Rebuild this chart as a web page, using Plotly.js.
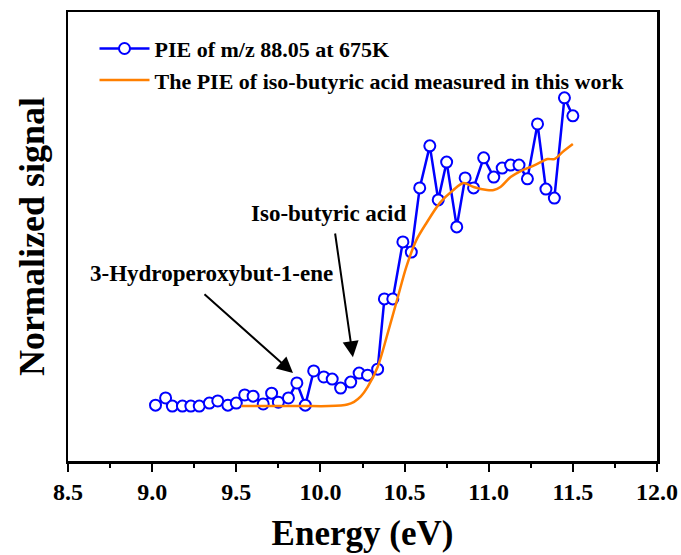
<!DOCTYPE html>
<html>
<head>
<meta charset="utf-8">
<script src="https://cdn.plot.ly/plotly-3.0.1.min.js"></script>
<style>html,body{margin:0;padding:0;background:#fff;}#chart{width:681px;height:555px;}</style>
</head>
<body>
<div id="chart"></div>
<script>
// PIE of m/z 88.05 at 675K
var pieEnergy = [9.02, 9.08, 9.12, 9.18, 9.23, 9.28, 9.34, 9.39, 9.45, 9.50,
                 9.55, 9.60, 9.66, 9.71, 9.75, 9.81, 9.86, 9.91, 9.96, 10.02,
                 10.07, 10.12, 10.18, 10.23, 10.28, 10.34, 10.38, 10.43, 10.49, 10.54,
                 10.59, 10.65, 10.70, 10.75, 10.81, 10.86, 10.91, 10.97, 11.03, 11.08,
                 11.13, 11.18, 11.23, 11.29, 11.34, 11.39, 11.45, 11.50];
var pieSignal = [0.003, 0.027, 0.000, 0.000, 0.000, 0.000, 0.010, 0.017, 0.003, 0.010,
                 0.037, 0.033, 0.007, 0.043, 0.013, 0.027, 0.077, 0.003, 0.117, 0.097,
                 0.090, 0.060, 0.080, 0.110, 0.103, 0.123, 0.357, 0.357, 0.547, 0.513,
                 0.727, 0.867, 0.687, 0.813, 0.597, 0.760, 0.727, 0.827, 0.763, 0.793,
                 0.803, 0.803, 0.757, 0.940, 0.723, 0.693, 1.027, 0.967];

// Reference PIE of iso-butyric acid
var refEnergy = [9.53, 9.70, 9.90, 10.05, 10.12, 10.16, 10.20, 10.24, 10.28, 10.34,
                 10.40, 10.46, 10.51, 10.57, 10.63, 10.71, 10.79, 10.85, 10.91, 10.99,
                 11.03, 11.07, 11.13, 11.19, 11.25, 11.30, 11.35, 11.39, 11.44, 11.50];
var refSignal = [0.000, 0.000, 0.000, 0.000, 0.002, 0.005, 0.014, 0.032, 0.063, 0.130,
                 0.243, 0.363, 0.463, 0.553, 0.610, 0.677, 0.720, 0.743, 0.730, 0.720,
                 0.720, 0.730, 0.763, 0.783, 0.797, 0.810, 0.823, 0.823, 0.847, 0.873];

var xTickVals = [8.5, 9.0, 9.5, 10.0, 10.5, 11.0, 11.5, 12.0];
var xTickText = ['8.5', '9.0', '9.5', '10.0', '10.5', '11.0', '11.5', '12.0'];

var FONT = 'Liberation Serif, Times New Roman, serif';

var traces = [
  {
    x: pieEnergy, y: pieSignal, type: 'scatter', mode: 'lines+markers',
    name: 'PIE of m/z 88.05 at 675K',
    line: {color: '#0000FF', width: 2.5},
    marker: {symbol: 'circle', size: 11, color: '#FFFFFF', line: {color: '#0000FF', width: 2}}
  },
  {
    x: refEnergy, y: refSignal, type: 'scatter', mode: 'lines',
    name: 'The PIE of iso-butyric acid measured in this work',
    line: {color: '#FF7F00', width: 2.5, shape: 'spline', smoothing: 0.8}
  }
];

var layout = {
  width: 681, height: 555,
  margin: {l: 68, r: 24, t: 12, b: 94},
  paper_bgcolor: '#fff', plot_bgcolor: '#fff',
  font: {family: FONT, color: '#000', weight: 'bold'},
  showlegend: true,
  legend: {
    x: 0.045, y: 0.965, xanchor: 'left', yanchor: 'top',
    bgcolor: 'rgba(0,0,0,0)', borderwidth: 0,
    font: {family: FONT, size: 22, color: '#000', weight: 'bold'},
    itemwidth: 50, tracegroupgap: 0
  },
  xaxis: {
    range: [8.5, 12.0],
    tickvals: xTickVals, ticktext: xTickText,
    ticks: 'outside', ticklen: 8, tickwidth: 2, tickcolor: '#000',
    minor: {dtick: 0.25, tick0: 8.5, ticks: 'outside', ticklen: 4, tickwidth: 2, tickcolor: '#000'},
    showline: true, linewidth: 2.5, linecolor: '#000', mirror: true,
    showgrid: false, zeroline: false,
    tickfont: {family: FONT, size: 24, color: '#000', weight: 'bold'},
    title: {text: 'Energy (eV)', font: {family: FONT, size: 35, color: '#000', weight: 'bold'}, standoff: 16}
  },
  yaxis: {
    range: [-0.183, 1.313],
    showticklabels: false, ticks: '',
    showline: true, linewidth: 2.5, linecolor: '#000', mirror: true,
    showgrid: false, zeroline: false,
    title: {text: 'Normalized signal', font: {family: FONT, size: 36, color: '#000', weight: 'bold'}, standoff: 10}
  },
  annotations: [
    {x: 10.045, y: 0.643, xref: 'x', yref: 'y', text: 'Iso-butyric acid', showarrow: false,
     font: {family: FONT, size: 23, color: '#000', weight: 'bold'}},
    {x: 9.35, y: 0.443, xref: 'x', yref: 'y', text: '3-Hydroperoxybut-1-ene', showarrow: false,
     font: {family: FONT, size: 23, color: '#000', weight: 'bold'}},
    {x: 10.193, y: 0.163, xref: 'x', yref: 'y', ax: 10.086, ay: 0.58, axref: 'x', ayref: 'y',
     text: '', showarrow: true, arrowhead: 2, arrowsize: 1.6, arrowwidth: 2, arrowcolor: '#000'},
    {x: 9.837, y: 0.11, xref: 'x', yref: 'y', ax: 9.302, ay: 0.377, axref: 'x', ayref: 'y',
     text: '', showarrow: true, arrowhead: 2, arrowsize: 1.6, arrowwidth: 2, arrowcolor: '#000'}
  ]
};

Plotly.newPlot('chart', traces, layout, {staticPlot: true, displayModeBar: false});
</script>
</body>
</html>
